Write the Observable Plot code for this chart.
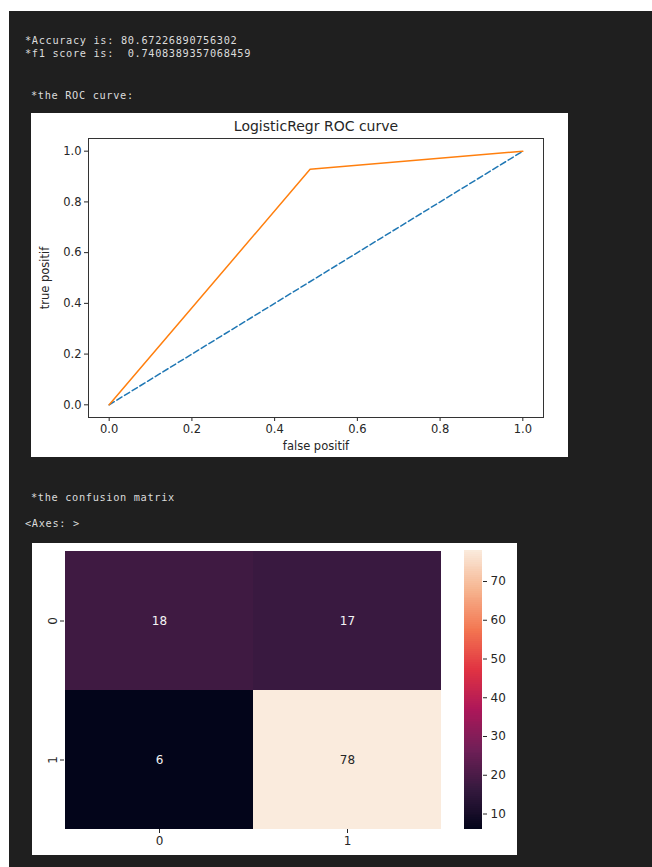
<!DOCTYPE html>
<html><head><meta charset="utf-8">
<script src="https://cdn.jsdelivr.net/npm/d3@7"></script>
<script src="https://cdn.jsdelivr.net/npm/@observablehq/plot@0.6"></script>
<style>
html,body{margin:0;padding:0;background:#fff;width:652px;height:867px;overflow:hidden;}
#page{position:relative;width:652px;height:867px;}
#dark{position:absolute;left:9px;top:11px;width:643px;height:856px;background:#1f1f1f;}
.out{position:absolute;font-family:"DejaVu Sans Mono",monospace;font-size:10.3px;letter-spacing:0.65px;color:#dcdcdc;line-height:12px;white-space:pre;}
.panel{position:absolute;background:#fff;}
.panel svg{position:absolute;left:0;top:0;}
</style></head><body>
<div id="page">
<div id="dark"></div>
<div class="out" style="left:25px;top:34px">*Accuracy is: 80.67226890756302</div>
<div class="out" style="left:25px;top:47px">*f1 score is:  0.7408389357068459</div>
<div class="out" style="left:31px;top:89px">*the ROC curve:</div>
<div class="panel" id="roc" style="left:31px;top:113px;width:537px;height:344px"></div>
<div class="out" style="left:31px;top:491px">*the confusion matrix</div>
<div class="out" style="left:25px;top:517px">&lt;Axes: &gt;</div>
<div class="panel" id="cm" style="left:32px;top:543px;width:485px;height:312px"></div>
</div>
<script>
// ---- data ----
const rocFpr = [0, 0.4857, 1];
const rocTpr = [0, 0.9286, 1];
const chanceFpr = [0, 1];
const chanceTpr = [0, 1];
const rocTicks = [0, 0.2, 0.4, 0.6, 0.8, 1.0];
const rocTitle = "LogisticRegr ROC curve";
const cmLabels = ["0", "1"];
const cmCounts = [[18, 17], [6, 78]];
const cbarTicks = [10, 20, 30, 40, 50, 60, 70];

// ---- ROC ----
const rocData = rocFpr.map((f, i) => ({fpr: f, tpr: rocTpr[i]}));
const chanceData = chanceFpr.map((f, i) => ({fpr: f, tpr: chanceTpr[i]}));
const txt = "#262626";
const rocPlot = Plot.plot({
  width: 537, height: 344,
  marginLeft: 57, marginRight: 25, marginTop: 25, marginBottom: 40,
  style: {fontFamily: "DejaVu Sans", fontSize: "11.5px", color: txt, background: "#fff"},
  x: {domain: [-0.05, 1.05]},
  y: {domain: [-0.05, 1.05]},
  marks: [
    Plot.axisX({ticks: rocTicks, tickFormat: ".1f", tickSize: 4, tickPadding: 3, label: "false positif", labelAnchor: "center", labelOffset: 32, labelArrow: "none"}),
    Plot.axisY({ticks: rocTicks, tickFormat: ".1f", tickSize: 4, tickPadding: 3, label: "true positif", labelAnchor: "center", labelOffset: 48, labelArrow: "none"}),
    Plot.line(chanceData, {x: "fpr", y: "tpr", stroke: "#1f77b4", strokeWidth: 1.5, strokeDasharray: "6,3"}),
    Plot.line(rocData, {x: "fpr", y: "tpr", stroke: "#ff7f0e", strokeWidth: 1.5}),
    Plot.frame({stroke: "#333", strokeWidth: 1}),
    Plot.text([rocTitle], {text: d => d, frameAnchor: "top", dy: -12, lineAnchor: "middle", fontSize: 14, fill: txt})
  ]
});
document.getElementById("roc").appendChild(rocPlot);

// ---- confusion matrix ----
const cells = [];
cmLabels.forEach((a, i) => cmLabels.forEach((p, j) => cells.push({actual: a, predicted: p, count: cmCounts[i][j]})));
const vmin = d3.min(cells, d => d.count), vmax = d3.max(cells, d => d.count);
const rocketStops = ["#03051a", "#35193e", "#701f57", "#ad1759", "#e13342", "#f37651", "#f6b48f", "#faebdd"];
const colorScale = {
  type: "linear",
  domain: rocketStops.map((_, i) => vmin + (vmax - vmin) * i / (rocketStops.length - 1)),
  range: rocketStops
};
const mid = (vmin + vmax) / 2;
const cmPlot = Plot.plot({
  width: 485, height: 312,
  marginLeft: 32, marginRight: 76, marginTop: 7, marginBottom: 26,
  style: {fontFamily: "DejaVu Sans", fontSize: "12px", color: txt, background: "transparent"},
  x: {type: "band", domain: cmLabels, padding: 0},
  y: {type: "band", domain: cmLabels, padding: 0},
  color: colorScale,
  marks: [
    Plot.cell(cells, {x: "predicted", y: "actual", fill: "count", inset: 0, shapeRendering: "crispEdges"}),
    Plot.text(cells.filter(d => d.count < mid), {x: "predicted", y: "actual", text: d => String(d.count), fill: "#f4f4f4", fontSize: 12}),
    Plot.text(cells.filter(d => d.count >= mid), {x: "predicted", y: "actual", text: d => String(d.count), fill: txt, fontSize: 12}),
    Plot.axisX({tickSize: 4, tickPadding: 3, label: null}),
    Plot.axisY({tickSize: 4, tickPadding: 4, tickRotate: -90, label: null})
  ]
});
document.getElementById("cm").appendChild(cmPlot);

const cbarSteps = d3.range(vmin, vmax, 0.5);
const cbarPlot = Plot.plot({
  width: 62, height: 312,
  marginLeft: 0, marginRight: 44, marginTop: 7, marginBottom: 26,
  style: {fontFamily: "DejaVu Sans", fontSize: "12px", color: txt, background: "transparent"},
  y: {domain: [vmin, vmax]},
  color: colorScale,
  marks: [
    Plot.rect(cbarSteps, {y1: d => d, y2: d => Math.min(vmax, d + 0.7), fill: d => d + 0.25, inset: 0, shapeRendering: "crispEdges"}),
    Plot.axisY({anchor: "right", ticks: cbarTicks, tickSize: 4, tickPadding: 4, label: null})
  ]
});
cbarPlot.style.left = "432px";
document.getElementById("cm").appendChild(cbarPlot);
</script>
</body></html>
